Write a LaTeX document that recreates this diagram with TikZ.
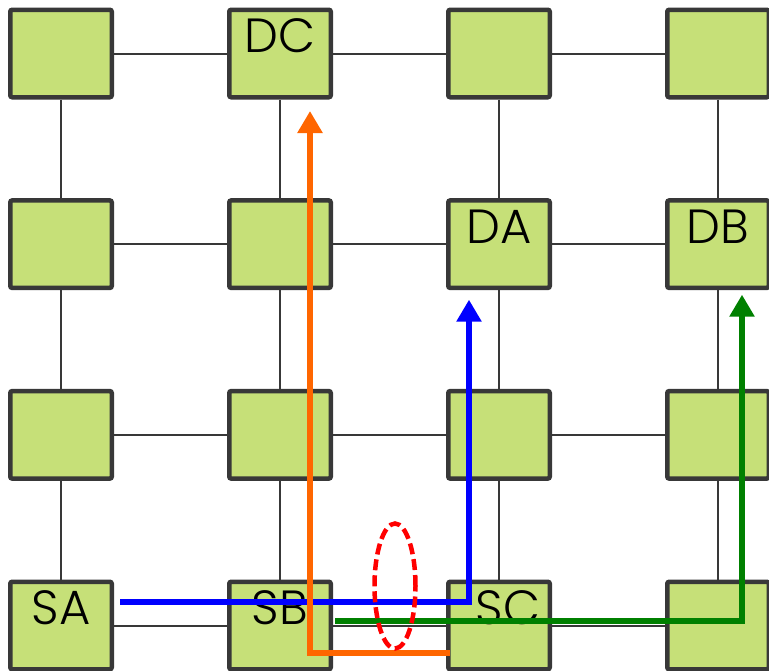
\documentclass[tikz,border=0pt]{standalone}
\usepackage{fontspec}
\setmainfont{Poppins}[UprightFont=* Light]
\usepackage{tikz}
\usetikzlibrary{shapes.geometric,arrows.meta,positioning}
\definecolor{nodegreen}{RGB}{198,224,120}
\definecolor{edgegray}{RGB}{56,56,56}
\definecolor{pathorange}{RGB}{255,102,0}
\definecolor{pathgreen}{RGB}{0,128,0}

\begin{document}
\begin{tikzpicture}[
  x=1pt, y=1pt,
  router/.style={rectangle, rounded corners=2pt, draw=edgegray, line width=4.5pt, fill=nodegreen, minimum width=101.5pt, minimum height=87.5pt, inner sep=0pt},
  link/.style={draw=edgegray, line width=2pt},
  lbl/.style={anchor=base, font=\fontsize{48}{56}\selectfont, inner sep=0pt},
  flow/.style={line width=6.5pt, -{Triangle[length=22pt, width=24pt]}},
  hot/.style={ellipse, draw=red, dash pattern=on 11pt off 5pt, line width=4.5pt, minimum width=41pt, minimum height=125pt, inner sep=0pt}
]
\clip (0,0) rectangle (769,-670);
% routers
\foreach \r in {1,...,4}
  \foreach \c in {1,...,4}
    \node[router] (n\r\c) at ({61+219*(\c-1)}, {-53.5-190.67*(\r-1)}) {};
% mesh links
\foreach \r in {1,...,4}
  \foreach \c [count=\d from 2] in {1,2,3}
    \draw[link] (n\r\c) -- (n\r\d);
\foreach \r [count=\s from 2] in {1,2,3}
  \foreach \c in {1,...,4}
    \draw[link] (n\r\c) -- (n\s\c);
% labels
\node[lbl] (dc) at ([yshift=-45pt]n12.north) {DC};
\node[lbl] (da) at ([yshift=-45pt]n23.north) {DA};
\node[lbl] (db) at ([yshift=-45pt]n24.north) {DB};
\node[lbl] (sa) at ([yshift=-45pt]n41.north) {SA};
\node[lbl] (sb) at ([yshift=-45pt]n42.north) {SB};
\node[lbl] (sc) at ([xshift=9pt,yshift=-45pt]n43.north) {SC};
% flow end points
\coordinate (bS) at ([xshift=6pt,yshift=23.5pt]n41.east);
\coordinate (bE) at ([xshift=-30pt,yshift=-9.5pt]n23.south);
\coordinate (oS) at ([xshift=4pt,yshift=-27.5pt]n43.west);
\coordinate (oE) at ([xshift=30pt,yshift=-11.5pt]n12.south);
\coordinate (gS) at ([xshift=2pt,yshift=4.5pt]n42.east);
\coordinate (gE) at ([xshift=24pt,yshift=-4.5pt]n24.south);
% flows
\draw[flow, blue] (bS) -| (bE);
\draw[flow, pathorange] (oS) -| (oE);
\draw[flow, pathgreen] (gS) -| (gE);
% contended link
\node[hot] (hotspot) at (395,-586) {};
\end{tikzpicture}
\end{document}
